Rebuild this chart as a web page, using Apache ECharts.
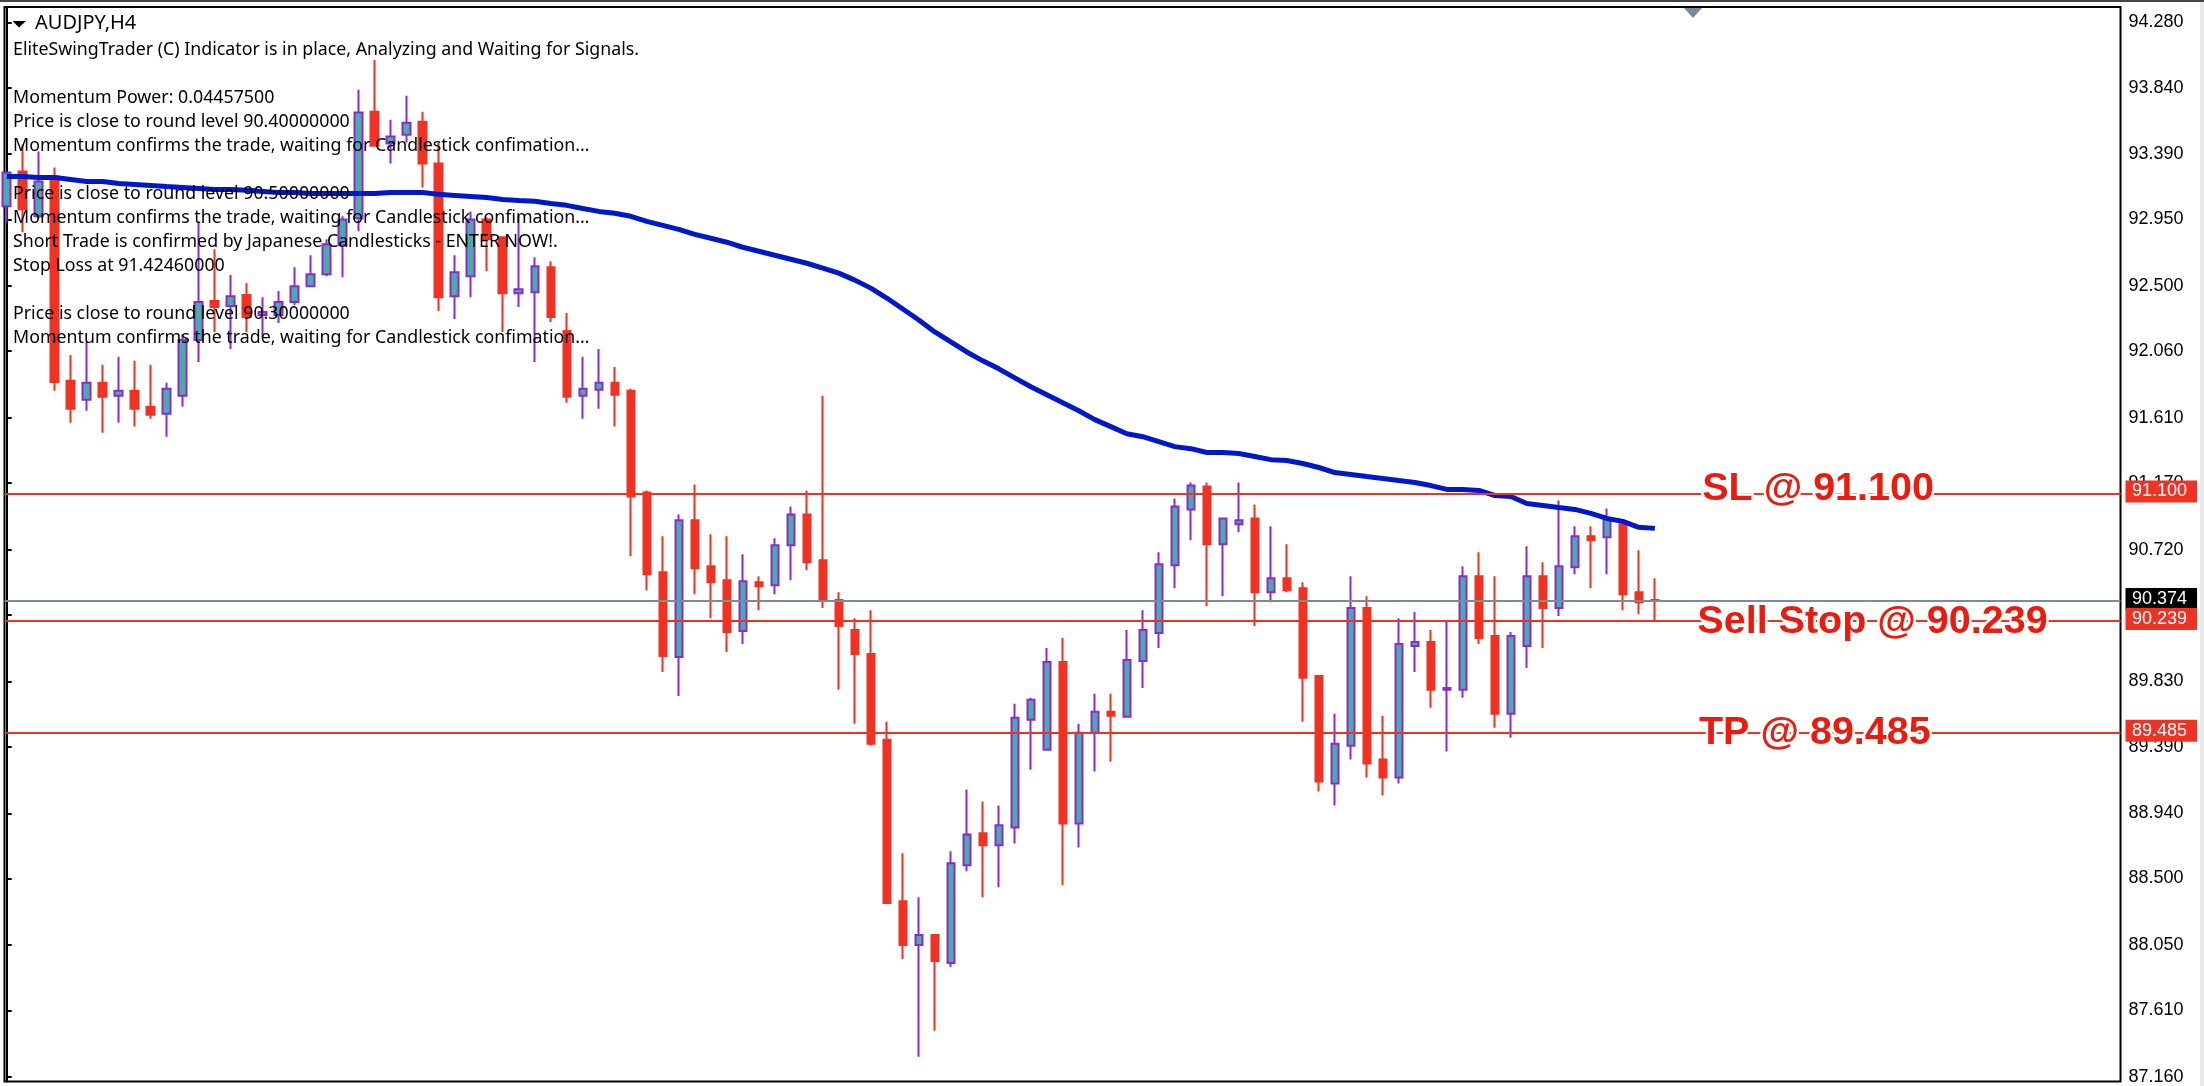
<!DOCTYPE html>
<html>
<head>
<meta charset="utf-8">
<script src="https://cdn.jsdelivr.net/npm/echarts@6/dist/echarts.min.js"></script>
<style>html,body{margin:0;padding:0;background:#fff}#c{width:2204px;height:1086px}</style>
</head>
<body>
<div id="c"></div>
<script>
const symbol = 'AUDJPY,H4';
const infoLines = [
  'EliteSwingTrader (C) Indicator is in place, Analyzing and Waiting for Signals.',
  '',
  'Momentum Power: 0.04457500',
  'Price is close to round level 90.40000000',
  'Momentum confirms the trade, waiting for Candlestick confimation...',
  '',
  'Price is close to round level 90.50000000',
  'Momentum confirms the trade, waiting for Candlestick confimation...',
  'Short Trade is confirmed by Japanese Candlesticks - ENTER NOW!.',
  'Stop Loss at 91.42460000',
  '',
  'Price is close to round level 90.30000000',
  'Momentum confirms the trade, waiting for Candlestick confimation...'
];
const yTicks = [94.28,93.84,93.39,92.95,92.50,92.06,91.61,91.17,90.72,90.28,89.83,89.39,88.94,88.50,88.05,87.61,87.16];
const bid = 90.374;
const levels = [91.1, 90.239, 89.485];
const annotationText = ['SL @ 91.100','Sell Stop @ 90.239','TP @ 89.485'];
const annotationBar = [113.2, 116.6, 113.0];

const open = [
93.038,93.273,92.971,93.240,91.860,91.732,91.847,91.759,91.793,91.685,91.638,91.759,92.136,92.399,92.365,92.439,92.304,92.304,92.392,92.499,
92.580,92.775,92.957,93.677,93.462,93.522,93.610,93.327,92.432,92.567,92.950,92.829,92.452,92.459,92.627,92.197,91.759,91.800,91.847,91.793,
91.106,90.568,89.996,90.918,90.608,90.514,90.171,90.501,90.480,90.750,90.958,90.649,90.380,90.178,90.016,89.437,88.347,88.051,88.118,87.930,
88.589,88.805,88.724,88.845,89.572,89.370,89.962,88.872,89.484,89.626,89.592,89.969,90.157,90.615,90.992,91.147,90.756,90.891,90.931,90.433,
90.528,90.460,89.868,89.141,89.397,90.326,89.303,89.182,90.070,90.097,89.774,89.774,90.541,90.137,89.612,90.070,90.541,90.326,90.602,90.810,
90.804,90.891,90.433,90.380];
const close = [
93.267,93.018,93.206,91.853,91.672,91.847,91.752,91.793,91.672,91.631,91.806,92.136,92.392,92.358,92.432,92.291,92.325,92.392,92.499,92.580,
92.782,92.950,93.671,93.448,93.509,93.603,93.327,92.425,92.594,92.950,92.816,92.452,92.479,92.634,92.291,91.752,91.806,91.847,91.766,91.079,
90.555,90.003,90.918,90.595,90.501,90.164,90.507,90.474,90.750,90.958,90.635,90.373,90.205,90.016,89.410,88.334,88.051,88.118,87.943,88.603,
88.798,88.724,88.859,89.585,89.707,89.962,88.872,89.484,89.626,89.599,89.976,90.178,90.622,91.012,91.153,90.756,90.931,90.918,90.433,90.528,
90.447,89.855,89.155,89.410,90.326,89.276,89.182,90.083,90.097,89.774,89.787,90.541,90.124,89.612,90.137,90.541,90.326,90.608,90.810,90.783,
90.931,90.420,90.366,90.374];
const low = [
92.930,92.863,92.957,91.793,91.577,91.658,91.510,91.577,91.551,91.604,91.483,91.685,91.988,92.190,92.075,92.190,92.156,92.250,92.372,92.493,
92.567,92.560,92.870,93.448,93.327,93.469,93.166,92.331,92.277,92.425,92.600,92.190,92.358,91.988,92.257,91.712,91.604,91.672,91.551,90.676,
90.447,89.895,89.733,90.420,90.258,90.030,90.083,90.312,90.420,90.514,90.581,90.326,89.774,89.545,89.397,88.334,87.957,87.297,87.472,87.903,
88.549,88.374,88.441,88.737,89.235,89.370,88.455,88.710,89.222,89.289,89.592,89.787,90.056,90.460,90.783,90.339,90.406,90.837,90.205,90.366,
90.433,89.558,89.087,88.993,89.303,89.182,89.060,89.141,89.895,89.653,89.357,89.720,90.083,89.518,89.451,89.922,90.056,90.272,90.555,90.460,
90.555,90.312,90.285,90.239];
const high = [
93.273,93.455,93.408,93.300,92.035,92.123,91.968,92.022,91.995,91.968,91.847,92.176,92.930,92.748,92.574,92.520,92.425,92.466,92.627,92.708,
92.816,92.971,93.825,94.027,93.623,93.785,93.677,93.469,92.708,93.004,92.964,92.836,92.977,92.695,92.668,92.318,92.022,92.075,91.954,91.806,
91.120,90.810,90.958,91.160,90.824,90.810,90.689,90.541,90.797,91.012,91.120,91.759,90.433,90.258,90.312,89.558,88.670,88.374,88.118,88.684,
89.101,89.020,88.993,89.680,89.720,90.056,90.124,89.545,89.747,89.747,90.178,90.312,90.703,91.066,91.174,91.174,90.931,91.174,91.026,90.878,
90.756,90.501,89.868,89.612,90.541,90.406,89.599,90.258,90.299,90.178,90.238,90.608,90.703,90.541,90.164,90.743,90.635,91.053,90.878,90.878,
90.999,90.898,90.716,90.528];
const ma = [
93.240,93.240,93.233,93.233,93.220,93.206,93.206,93.193,93.186,93.179,93.172,93.166,93.159,93.152,93.152,93.146,93.139,93.132,93.132,93.125,
93.125,93.125,93.125,93.125,93.132,93.132,93.132,93.119,93.112,93.105,93.098,93.085,93.078,93.072,93.058,93.045,93.024,93.004,92.991,92.971,
92.937,92.910,92.883,92.849,92.823,92.796,92.762,92.735,92.708,92.681,92.654,92.621,92.587,92.540,92.486,92.419,92.345,92.271,92.190,92.123,
92.055,91.995,91.941,91.880,91.820,91.766,91.712,91.658,91.598,91.551,91.503,91.483,91.450,91.416,91.402,91.376,91.376,91.369,91.349,91.328,
91.322,91.302,91.275,91.241,91.228,91.214,91.201,91.187,91.174,91.153,91.127,91.127,91.120,91.086,91.079,91.032,91.019,91.005,90.992,90.965,
90.931,90.911,90.871,90.864];

const RED = '#ee3224', PURPLE = '#8a2bd0', TEAL = '#50a8a8', GREY = '#7c8a99', BLUE = '#0018c8', TXT_RED = '#ea1c10';
const candleData = open.map((o, i) => [i, o, close[i], low[i], high[i]]);
const maData = ma.map((v, i) => [i, v]);
const UI = '"Noto Sans", sans-serif';
const AXF = '"Liberation Sans", sans-serif';
const annotationOffset = [-4, 1, 0];

function priceBox(bg) {
  return {
    show: true, position: 'end', distance: 5, offset: [0, -2],
    formatter: p => Number(p.value).toFixed(3),
    color: '#fff', backgroundColor: bg, fontFamily: AXF, fontSize: 18,
    lineHeight: 22, height: 22, padding: [0, 10, 0, 6.5]
  };
}

const chart = echarts.init(document.getElementById('c'), null, {renderer: 'canvas'});
chart.setOption({
  animation: false,
  backgroundColor: '#fff',
  grid: {show: true, left: 4.5, right: 83.5, top: 7, bottom: 1, borderColor: '#000', borderWidth: 2, backgroundColor: '#fff'},
  tooltip: {show: false},
  xAxis: {type: 'value', min: -0.1375, max: 132.1, splitLine: {show: false}, axisLine: {show: false}, axisTick: {show: false}, axisLabel: {show: false}},
  yAxis: {
    type: 'value', position: 'right', min: 87.129, max: 94.384,
    splitLine: {show: false},
    axisLine: {show: true, lineStyle: {color: '#000', width: 2}},
    axisTick: {show: true, length: 5, lineStyle: {color: '#000', width: 2}, customValues: yTicks},
    axisLabel: {show: true, color: '#000', fontFamily: AXF, fontSize: 18, margin: 8, customValues: yTicks, formatter: v => v.toFixed(3)}
  },
  series: [
    {
      type: 'line', z: 1, data: [], silent: true, symbol: 'none',
      markLine: {silent: true, symbol: 'none', animation: false, precision: 3,
        lineStyle: {color: GREY, width: 2, type: 'solid'},
        label: priceBox('#000'),
        data: [{yAxis: bid}]}
    },
    {
      type: 'candlestick', z: 2, barWidth: 8, data: candleData, silent: true,
      encode: {x: 0, y: [1, 2, 3, 4]},
      itemStyle: {color: TEAL, color0: RED, borderColor: PURPLE, borderColor0: RED, borderWidth: 2}
    },
    {
      type: 'line', z: 3, data: maData, silent: true, symbol: 'none',
      lineStyle: {color: BLUE, width: 5}, smooth: false
    },
    {
      type: 'line', z: 4, data: [], silent: true, symbol: 'none',
      markLine: {silent: true, symbol: 'none', animation: false, precision: 3,
        lineStyle: {color: RED, width: 2, type: 'solid'},
        label: priceBox(RED),
        data: levels.map(v => ({yAxis: v}))},
      markPoint: {silent: true, symbol: 'circle', symbolSize: 0, animation: false,
        label: {show: true, position: 'inside', color: TXT_RED, fontFamily: AXF, fontWeight: 'bold', fontSize: 39.5,
          textBorderColor: '#fff', textBorderWidth: 5},
        data: levels.map((v, i) => ({coord: [annotationBar[i], v], value: annotationText[i],
          label: {formatter: annotationText[i], offset: [0, annotationOffset[i]]}}))}
    }
  ],
  graphic: [
    {type: 'rect', z: 50, shape: {x: 0, y: 0, width: 2204, height: 2}, style: {fill: '#444'}},
    {type: 'rect', z: 50, shape: {x: 2200, y: 2, width: 4, height: 1084}, style: {fill: '#e8e8e8'}},
    {type: 'polygon', z: 50, shape: {points: [[12.5, 21], [26, 21], [19, 27.5]]}, style: {fill: '#000'}},
    {type: 'polygon', z: 50, shape: {points: [[1684, 8], [1702, 8], [1693, 18]]}, style: {fill: GREY}},
    {type: 'text', z: 50, style: {x: 35, y: 23, text: symbol, fill: '#000', font: '20px ' + UI, textVerticalAlign: 'middle'}},
    ...infoLines.map((t, i) => ({type: 'text', z: 50,
      style: {x: 13, y: 50 + 24 * i, text: t, fill: '#000', font: '17.8px ' + UI, textVerticalAlign: 'middle'}}))
  ]
});
</script>
</body>
</html>
